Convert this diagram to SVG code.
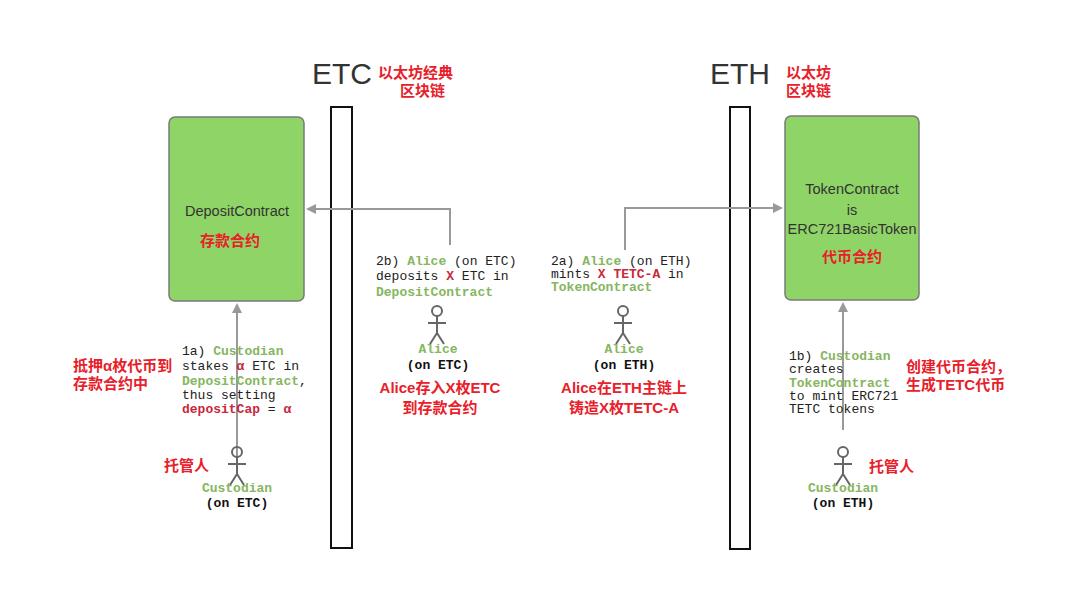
<svg xmlns="http://www.w3.org/2000/svg" width="1080" height="608" viewBox="0 0 1080 608">
<style>
.m{font-family:"Liberation Mono",monospace;font-size:13px;fill:#222}
.g{fill:#86b660;font-weight:bold}
.r{fill:#c8283c;font-weight:bold}
.b{font-weight:bold;fill:#111}
.cn{font-family:"Liberation Sans","Noto Sans CJK SC",sans-serif;font-weight:bold;fill:#e8202a;font-size:15px}
.s{font-family:"Liberation Sans","Noto Sans",sans-serif;font-size:14.5px;fill:#333}
.box{fill:#8fd466;stroke:#7a7a7a;stroke-width:1.5}
.bar{fill:#fff;stroke:#111;stroke-width:2}
.ln{fill:none;stroke:#999;stroke-width:2}
.fig{fill:none;stroke:#666;stroke-width:2}
</style>
<defs>
<marker id="a" markerWidth="10" markerHeight="10" refX="8" refY="5" orient="auto" markerUnits="userSpaceOnUse"><path d="M0,0 L10,5 L0,10 z" fill="#999"/></marker>
<g id="man"><circle cx="0" cy="-14" r="5" class="fig"/><path d="M0,-9 V8 M-9,-2 H9 M0,8 L-7,19 M0,8 L7,19" class="fig"/></g>
</defs>
<rect width="1080" height="608" fill="#fff"/>
<g id="etc-chain">
<rect class="bar" x="331" y="107" width="21" height="441"/>
<text x="342" y="84" font-family="Liberation Sans,sans-serif" font-size="30" text-anchor="middle" fill="#333">ETC</text>
<text x="378" y="78" class="cn">以太坊经典</text>
<text x="400" y="96" class="cn">区块链</text>
</g>
<g id="eth-chain">
<rect class="bar" x="730" y="107" width="20" height="442"/>
<text x="740" y="84" font-family="Liberation Sans,sans-serif" font-size="30" text-anchor="middle" fill="#333">ETH</text>
<text x="786" y="78" class="cn">以太坊</text>
<text x="786" y="96" class="cn">区块链</text>
</g>
<g id="connectors">
<path class="ln" d="M450,245 V209 H308" marker-end="url(#a)"/>
<path class="ln" d="M237,460 V305" marker-end="url(#a)"/>
<path class="ln" d="M625,250 V208 H781" marker-end="url(#a)"/>
<path class="ln" d="M843,430 V304" marker-end="url(#a)"/>
</g>
<g id="deposit">
<rect class="box" x="169" y="117" width="135" height="184" rx="6"/>
<text x="237" y="216" class="s" text-anchor="middle">DepositContract</text>
<text x="230" y="246" class="cn" text-anchor="middle">存款合约</text>
</g>
<g id="token">
<rect class="box" x="785" y="116" width="134" height="184" rx="6"/>
<text x="852" y="194" class="s" text-anchor="middle">TokenContract</text>
<text x="852" y="215" class="s" text-anchor="middle">is</text>
<text x="852" y="234" class="s" text-anchor="middle">ERC721BasicToken</text>
<text x="852" y="262" class="cn" text-anchor="middle">代币合约</text>
</g>
<g id="label-1a">
<text class="m" x="182" y="355">1a) <tspan class="g">Custodian</tspan></text>
<text class="m" x="182" y="370">stakes <tspan class="r">α</tspan> ETC in</text>
<text class="m" x="182" y="385"><tspan class="g">DepositContract</tspan>,</text>
<text class="m" x="182" y="399">thus setting</text>
<text class="m" x="182" y="413"><tspan class="r">depositCap</tspan> = <tspan class="r">α</tspan></text>
<text class="cn" x="73" y="371">抵押α枚代币到</text>
<text class="cn" x="73" y="389">存款合约中</text>
</g>
<g id="custodian-etc">
<use href="#man" x="237" y="466"/>
<text class="m g" x="237" y="492" text-anchor="middle" font-size="14">Custodian</text>
<text class="m b" x="237" y="507" text-anchor="middle" font-size="14">(on ETC)</text>
<text class="cn" x="164" y="471">托管人</text>
</g>
<g id="label-2b">
<text class="m" x="376" y="265">2b) <tspan class="g">Alice</tspan> (on ETC)</text>
<text class="m" x="376" y="280">deposits <tspan class="r">X</tspan> ETC in</text>
<text class="m" x="376" y="296"><tspan class="g">DepositContract</tspan></text>
</g>
<g id="alice-etc">
<use href="#man" x="437" y="325"/>
<text class="m g" x="438" y="353" text-anchor="middle" font-size="14">Alice</text>
<text class="m b" x="438" y="369" text-anchor="middle" font-size="14">(on ETC)</text>
<text class="cn" x="440" y="393" text-anchor="middle">Alice存入X枚ETC</text>
<text class="cn" x="440" y="413" text-anchor="middle">到存款合约</text>
</g>
<g id="label-2a">
<text class="m" x="551" y="265">2a) <tspan class="g">Alice</tspan> (on ETH)</text>
<text class="m" x="551" y="278">mints <tspan class="r">X TETC-A</tspan> in</text>
<text class="m" x="551" y="291"><tspan class="g">TokenContract</tspan></text>
</g>
<g id="alice-eth">
<use href="#man" x="623" y="325"/>
<text class="m g" x="624" y="353" text-anchor="middle" font-size="14">Alice</text>
<text class="m b" x="624" y="369" text-anchor="middle" font-size="14">(on ETH)</text>
<text class="cn" x="624" y="393" text-anchor="middle">Alice在ETH主链上</text>
<text class="cn" x="624" y="413" text-anchor="middle">铸造X枚TETC-A</text>
</g>
<g id="label-1b">
<text class="m" x="789" y="360">1b) <tspan class="g">Custodian</tspan></text>
<text class="m" x="789" y="373">creates</text>
<text class="m" x="789" y="387"><tspan class="g">TokenContract</tspan></text>
<text class="m" x="789" y="400">to mint ERC721</text>
<text class="m" x="789" y="413">TETC tokens</text>
<text class="cn" x="906" y="372">创建代币合约，</text>
<text class="cn" x="906" y="390">生成TETC代币</text>
</g>
<g id="custodian-eth">
<use href="#man" x="843" y="466"/>
<text class="m g" x="843" y="492" text-anchor="middle" font-size="14">Custodian</text>
<text class="m b" x="843" y="507" text-anchor="middle" font-size="14">(on ETH)</text>
<text class="cn" x="869" y="472">托管人</text>
</g>
</svg>
